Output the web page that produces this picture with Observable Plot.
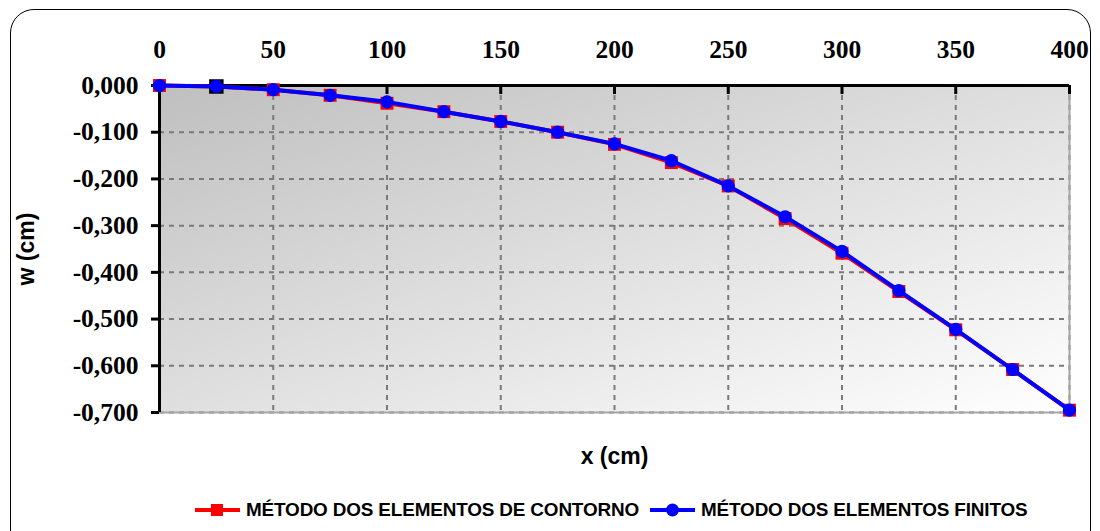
<!DOCTYPE html>
<html>
<head>
<meta charset="utf-8">
<script src="https://cdn.jsdelivr.net/npm/d3@7"></script>
<script src="https://cdn.jsdelivr.net/npm/@observablehq/plot@0.6"></script>
<style>
  html, body { margin: 0; padding: 0; background: #fff; }
  #wrap { position: relative; width: 1100px; height: 531px; overflow: hidden; background: #fff; }
  #border { position: absolute; left: 10px; top: 9px; width: 1081px; height: 545px;
            border: 1.5px solid #000; border-radius: 24px; box-sizing: border-box; }
  #chart { position: absolute; left: 0; top: 0; }
  #chart svg text {
    font-family: "Liberation Serif", "Times New Roman", serif !important;
    font-weight: bold !important; font-size: 25.5px !important;
  }
  #chart svg g.axis-title text {
    font-family: "Liberation Sans", Arial, sans-serif !important;
    font-weight: bold !important; font-size: 23px !important;
  }
  #legend { position: absolute; left: 195px; top: 497px; height: 26px; display: flex; align-items: center;
            font-family: "Liberation Sans", Arial, sans-serif; font-weight: bold; font-size: 18.9px; color: #000; }
  #legend .item { display: flex; align-items: center; }
  #legend svg { display: block; }
  #legend .label { margin-left: 6px; margin-right: 11px; white-space: nowrap; letter-spacing: -0.15px; }
</style>
</head>
<body>
<div id="wrap">
  <div id="border"></div>
  <div id="chart"></div>
  <div id="legend"></div>
</div>
<script>
// Deflection w (cm) along the beam, x (cm)
const xPositions = [0, 25, 50, 75, 100, 125, 150, 175, 200, 225, 250, 275, 300, 325, 350, 375, 400];
const wContorno  = [0, -0.002, -0.009, -0.021, -0.038, -0.056, -0.077, -0.100, -0.126, -0.165, -0.215, -0.285, -0.359, -0.441, -0.523, -0.608, -0.695];
const wFinitos   = [0, -0.002, -0.009, -0.021, -0.035, -0.056, -0.077, -0.100, -0.125, -0.161, -0.215, -0.281, -0.355, -0.439, -0.522, -0.608, -0.695];
const highlightedX = [25];

const seriesNames = ["MÉTODO DOS ELEMENTOS DE CONTORNO", "MÉTODO DOS ELEMENTOS FINITOS"];
const xTicks = [0, 50, 100, 150, 200, 250, 300, 350, 400];
const yTicks = [0, -0.1, -0.2, -0.3, -0.4, -0.5, -0.6, -0.7];
const xTitle = "x (cm)";
const yTitle = "w (cm)";

const contorno = xPositions.map((x, i) => ({x, w: wContorno[i]}));
const finitos  = xPositions.map((x, i) => ({x, w: wFinitos[i]}));

const ptBr = d3.formatLocale({decimal: ",", thousands: ".", grouping: [3], currency: ["", ""], minus: "-"});
const fmtW = ptBr.format(".3f");

// background gradient of the plotting area
const gradientDefs = () => {
  const defs = d3.create("svg:defs");
  const g = defs.append("linearGradient").attr("id", "plotBg")
    .attr("x1", 0).attr("y1", 0).attr("x2", 1).attr("y2", 1);
  g.append("stop").attr("offset", "0%").attr("stop-color", "#bfbfbf");
  g.append("stop").attr("offset", "100%").attr("stop-color", "#ffffff");
  return defs.node();
};

const chart = Plot.plot({
  width: 1100,
  height: 480,
  marginTop: 85,
  marginBottom: 68,
  marginLeft: 159,
  marginRight: 31,
  style: {color: "#000", background: "transparent", overflow: "visible"},
  x: {domain: [0, 400]},
  y: {domain: [-0.7, 0]},
  marks: [
    gradientDefs,
    Plot.frame({fill: "url(#plotBg)", stroke: null}),
    Plot.gridX(xTicks, {stroke: "#7a7a7a", strokeOpacity: 1, strokeWidth: 2, strokeDasharray: "5,5"}),
    Plot.gridY(yTicks, {stroke: "#7a7a7a", strokeOpacity: 1, strokeWidth: 2, strokeDasharray: "5,5"}),
    Plot.ruleY([-0.7], {stroke: "#a6a6a6", strokeWidth: 2}),
    Plot.ruleX([400], {stroke: "#a6a6a6", strokeWidth: 2}),
    Plot.ruleY([0], {stroke: "#000", strokeWidth: 3}),
    Plot.ruleX([0], {stroke: "#000", strokeWidth: 3}),
    Plot.tickX(xTicks, {x: d => d, stroke: "#000", strokeWidth: 3, insetBottom: 318}),
    Plot.axisX({anchor: "top", ticks: xTicks, tickSize: 0, tickPadding: 28, label: null}),
    Plot.axisY({anchor: "left", ticks: yTicks, tickSize: 8, tickPadding: 13, strokeWidth: 3, label: null,
      tickFormat: fmtW}),
    Plot.text([xTitle], {frameAnchor: "bottom", dy: 44, textAnchor: "middle", lineAnchor: "middle", className: "axis-title"}),
    Plot.text([yTitle], {frameAnchor: "left", dx: -133, rotate: -90, textAnchor: "middle", lineAnchor: "middle", className: "axis-title"}),
    // boundary element method
    Plot.line(contorno, {x: "x", y: "w", stroke: "#ff0000", strokeWidth: 4}),
    Plot.dot(contorno, {x: "x", y: "w", symbol: "square", r: 7.3,
      fill: d => highlightedX.includes(d.x) ? "#000" : "#ff0000",
      stroke: d => highlightedX.includes(d.x) ? "#000" : "none", strokeWidth: 1.5}),
    // finite element method
    Plot.line(finitos, {x: "x", y: "w", stroke: "#0000ff", strokeWidth: 4}),
    Plot.dot(finitos, {x: "x", y: "w", r: 6.6, fill: "#0000ff"})
  ]
});
document.getElementById("chart").appendChild(chart);

// legend
const legend = d3.select("#legend");
const swatchStyles = [
  {color: "#ff0000", shape: "square"},
  {color: "#0000ff", shape: "circle"}
];
seriesNames.forEach((name, i) => {
  const item = legend.append("div").attr("class", "item");
  const sw = item.append("svg").attr("width", 45).attr("height", 16);
  sw.append("line").attr("x1", 0).attr("x2", 45).attr("y1", 8).attr("y2", 8)
    .attr("stroke", swatchStyles[i].color).attr("stroke-width", 4);
  if (swatchStyles[i].shape === "square") {
    sw.append("rect").attr("x", 16).attr("y", 2).attr("width", 12).attr("height", 12).attr("fill", swatchStyles[i].color);
  } else {
    sw.append("circle").attr("cx", 22.5).attr("cy", 8).attr("r", 6.5).attr("fill", swatchStyles[i].color);
  }
  item.append("span").attr("class", "label").text(name);
});
</script>
</body>
</html>
